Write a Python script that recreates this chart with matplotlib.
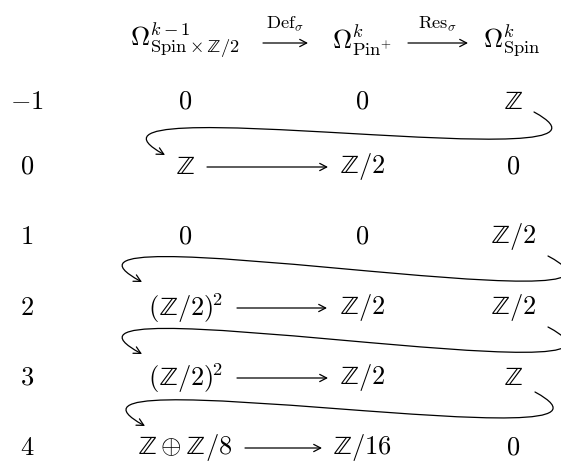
import matplotlib
matplotlib.use("Agg")
import matplotlib.pyplot as plt
from matplotlib.patches import FancyArrowPatch
from matplotlib.path import Path
import numpy as np

plt.rcParams["mathtext.fontset"] = "cm"
plt.rcParams["font.family"] = "serif"
plt.rcParams["font.serif"] = ["cmr10", "DejaVu Serif"]

# ── Data ──────────────────────────────────────────────────────────────────
degrees = [r"$-1$", r"$0$", r"$1$", r"$2$", r"$3$", r"$4$"]
col_spin_z2 = [r"$0$", r"$\mathbb{Z}$", r"$0$", r"$(\mathbb{Z}/2)^{\!2}$",
               r"$(\mathbb{Z}/2)^{\!2}$", r"$\mathbb{Z}\oplus\mathbb{Z}/8$"]
col_pin = [r"$0$", r"$\mathbb{Z}/2$", r"$0$", r"$\mathbb{Z}/2$",
           r"$\mathbb{Z}/2$", r"$\mathbb{Z}/16$"]
col_spin = [r"$\mathbb{Z}$", r"$0$", r"$\mathbb{Z}/2$", r"$\mathbb{Z}/2$",
            r"$\mathbb{Z}$", r"$0$"]
has_def_arrow = [False, True, False, True, True, True]
# connecting maps: row i (Spin column) -> row i+1 (Spin x Z/2 column)
snake_from = [0, 2, 3, 4]

headers = [r"$\Omega^{k-1}_{\mathrm{Spin}\times\mathbb{Z}/2}$",
           r"$\Omega^{k}_{\mathrm{Pin}^{+}}$",
           r"$\Omega^{k}_{\mathrm{Spin}}$"]
header_maps = [r"$\mathrm{Def}_{\sigma}$", r"$\mathrm{Res}_{\sigma}$"]


def tex(s):
    # upright blackboard bold (mathtext otherwise picks the italic variant)
    return s.replace(r"\mathbb{Z}", r"\mathrm{\mathbb{Z}}")


# ── Layout (pixel coordinates) ────────────────────────────────────────────
W, H = 561, 464
row_y = [102, 167, 237, 308, 378, 448]
col_x = [27, 185, 362, 513]
head_x = [185, 362, 512]
def_x = [None, (207, 328), None, (237, 327), (237, 328), (245, 322)]
snake_start = {0: (534, 113), 2: (548, 257), 3: (548, 328), 4: (535, 393)}
snake_end = {0: (165, 156), 2: (142, 283), 3: (142, 355), 4: (145, 427)}
# control-point offsets (dx, dy): leave and enter heading down-right
snake_ctrl = {0: (130, 71), 2: (140, 75), 3: (140, 75), 4: (134, 73)}

FS = 19

fig = plt.figure(figsize=(W / 100, H / 100), dpi=100)
ax = fig.add_axes([0, 0, 1, 1])
ax.set_xlim(0, W)
ax.set_ylim(H, 0)
ax.axis("off")

arrow_kw = dict(arrowstyle="->,head_length=5,head_width=2.6", color="black",
                lw=0.9, shrinkA=0, shrinkB=0, mutation_scale=1)

# header row
for x, lab in zip(head_x, headers):
    ax.text(x, 40, tex(lab), fontsize=FS, ha="center", va="center")
for (x0, x1), lab in zip([(263, 308), (408, 468)], header_maps):
    ax.add_patch(FancyArrowPatch((x0, 44), (x1, 44), **arrow_kw))
    ax.text((x0 + x1) / 2, 24, lab, fontsize=FS * 0.7, ha="center", va="center")

# table body
for i, y in enumerate(row_y):
    ax.text(col_x[0], y, degrees[i], fontsize=FS, ha="center", va="center")
    ax.text(col_x[1], y, tex(col_spin_z2[i]), fontsize=FS, ha="center", va="center")
    ax.text(col_x[2], y, tex(col_pin[i]), fontsize=FS, ha="center", va="center")
    ax.text(col_x[3], y, tex(col_spin[i]), fontsize=FS, ha="center", va="center")
    if has_def_arrow[i]:
        x0, x1 = def_x[i]
        ax.add_patch(FancyArrowPatch((x0, y + 1), (x1, y + 1), **arrow_kw))

# snake arrows (single cubic bezier)
for i in snake_from:
    p0 = np.array(snake_start[i], float)
    p3 = np.array(snake_end[i], float)
    d = np.array(snake_ctrl[i], float)
    path = Path([p0, p0 + d, p3 - d, p3],
                [Path.MOVETO, Path.CURVE4, Path.CURVE4, Path.CURVE4])
    ax.add_patch(FancyArrowPatch(path=path, **arrow_kw))

fig.savefig("out.png", dpi=100, facecolor="white")
